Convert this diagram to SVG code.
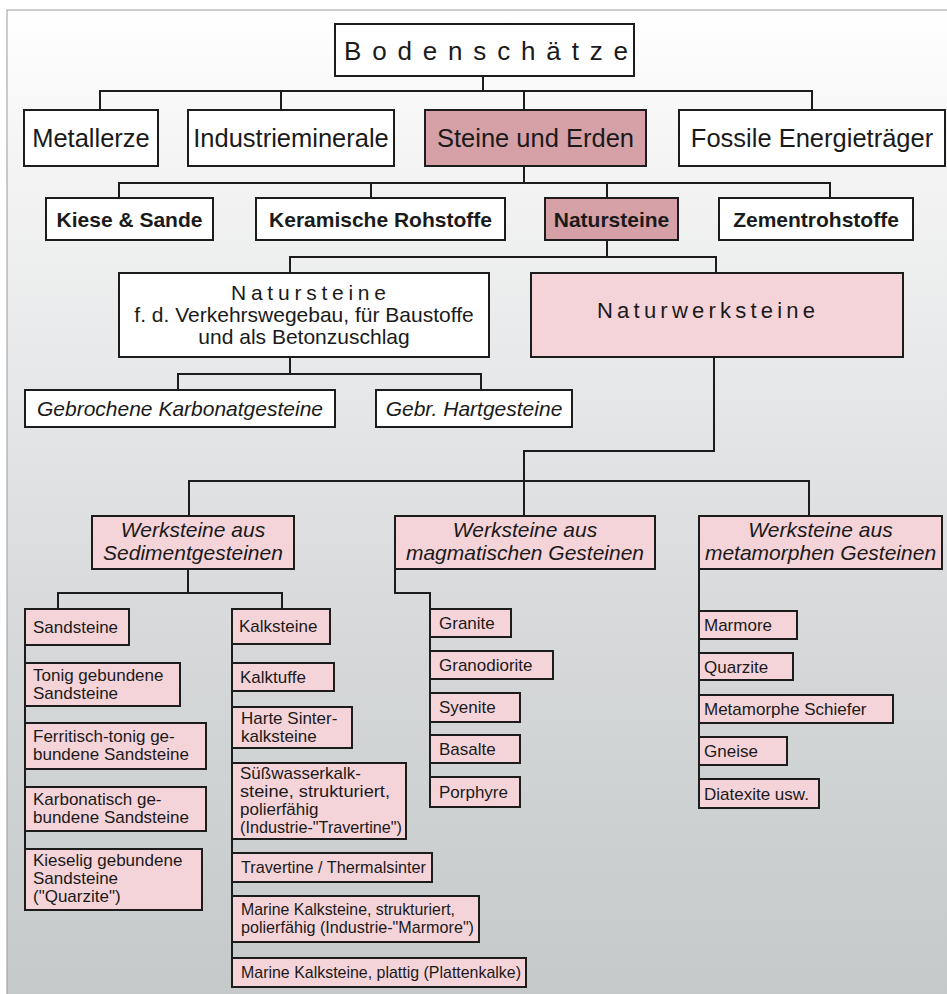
<svg xmlns="http://www.w3.org/2000/svg" width="947" height="994" viewBox="0 0 947 994">
<defs>
<linearGradient id="bg" x1="0" y1="0" x2="0" y2="1">
<stop offset="0" stop-color="#ffffff"/>
<stop offset="0.12" stop-color="#f6f6f6"/>
<stop offset="0.35" stop-color="#e8e9ea"/>
<stop offset="0.6" stop-color="#d8dadb"/>
<stop offset="1" stop-color="#c5c9ca"/>
</linearGradient>
<style>
.b{stroke:#1c1c1c;stroke-width:2;}
.w{fill:#ffffff;}
.dp{fill:#d6a0a7;}
.lp{fill:#f5d4d9;}
text{font-family:"Liberation Sans",Arial,sans-serif;fill:#1a1a1a;}
.t1{font-size:25.5px;text-anchor:middle;}
.t2{font-size:21px;font-weight:bold;text-anchor:middle;}
.t3{font-size:21px;text-anchor:middle;}
.ti{font-size:21px;font-style:italic;text-anchor:middle;}
.s{font-size:17px;}
.c{fill:none;stroke:#1c1c1c;stroke-width:2;}
</style>
</defs>
<rect x="0" y="0" width="947" height="994" fill="#ffffff"/>
<rect x="7" y="10" width="945" height="990" fill="url(#bg)" stroke="#9a9a9a" stroke-width="1"/>

<g id="connectors">
<path class="c" d="M483,76 V91 M100,110 V91 H812 V110 M281,91 V110 M524,91 V110"/>
<path class="c" d="M524,166 V183 M119,198 V183 H830 V198 M371,183 V198 M607,183 V198"/>
<path class="c" d="M607,240 V257 M290,273 V257 H716 V273"/>
<path class="c" d="M290,357 V374 M178,390 V374 H481 V390"/>
<path class="c" d="M714,357 V451 H524 V481 M189,516 V481 H809 V516 M524,481 V516"/>
<path class="c" d="M188,569 V593 M58,609 V593 H282 V609 M25,645 V849 M232,644 V958"/>
<path class="c" d="M395,569 V593 H430 V777"/>
<path class="c" d="M699,569 V779"/>
</g>

<g id="n-bodenschaetze"><rect class="b w" x="335" y="24" width="299" height="52"/><text x="344" y="60" font-size="26" textLength="284" lengthAdjust="spacing">Bodenschätze</text></g>

<g id="n-metallerze"><rect class="b w" x="24" y="110" width="134" height="56"/><text class="t1" x="91" y="147">Metallerze</text></g>
<g id="n-industrieminerale"><rect class="b w" x="188" y="110" width="206" height="56"/><text class="t1" x="291" y="147">Industrieminerale</text></g>
<g id="n-steine-erden"><rect class="b dp" x="425" y="110" width="221" height="56"/><text class="t1" x="535.5" y="147">Steine und Erden</text></g>
<g id="n-fossile"><rect class="b w" x="679" y="110" width="266" height="56"/><text class="t1" x="812" y="147">Fossile Energieträger</text></g>

<g id="n-kiese"><rect class="b w" x="46" y="198" width="167" height="42"/><text class="t2" x="129.5" y="226.5">Kiese &amp; Sande</text></g>
<g id="n-keramische"><rect class="b w" x="256" y="198" width="249" height="42"/><text class="t2" x="380.5" y="226.5">Keramische Rohstoffe</text></g>
<g id="n-natursteine"><rect class="b dp" x="545" y="198" width="133" height="42"/><text class="t2" x="611.5" y="226.5">Natursteine</text></g>
<g id="n-zement"><rect class="b w" x="719" y="198" width="194" height="42"/><text class="t2" x="816" y="226.5">Zementrohstoffe</text></g>

<g id="n-natursteine-verkehr"><rect class="b w" x="119" y="273" width="370" height="84"/>
<text x="231" y="300" font-size="21" textLength="155" lengthAdjust="spacing">Natursteine</text>
<text class="t3" x="304" y="322">f. d. Verkehrswegebau, für Baustoffe</text>
<text class="t3" x="304" y="344">und als Betonzuschlag</text></g>
<g id="n-naturwerksteine"><rect class="b lp" x="531" y="273" width="372" height="84"/><text x="597" y="318" font-size="22" textLength="218" lengthAdjust="spacing">Naturwerksteine</text></g>

<g id="n-karbonat"><rect class="b w" x="25" y="390" width="310" height="37"/><text class="ti" x="180" y="416">Gebrochene Karbonatgesteine</text></g>
<g id="n-hart"><rect class="b w" x="376" y="390" width="196" height="37"/><text class="ti" x="474" y="416">Gebr. Hartgesteine</text></g>

<g id="n-sediment"><rect class="b lp" x="92" y="516" width="202" height="53"/><text class="ti" x="193" y="537">Werksteine aus</text><text class="ti" x="193" y="560">Sedimentgesteinen</text></g>
<g id="n-magmatisch"><rect class="b lp" x="395" y="516" width="260" height="53"/><text class="ti" x="525" y="537">Werksteine aus</text><text class="ti" x="525" y="560">magmatischen Gesteinen</text></g>
<g id="n-metamorph"><rect class="b lp" x="699" y="516" width="243" height="53"/><text class="ti" x="820.5" y="537">Werksteine aus</text><text class="ti" x="820.5" y="560">metamorphen Gesteinen</text></g>

<g id="n-sandsteine"><rect class="b lp" x="25" y="609" width="104" height="36"/><text class="s" x="33" y="633">Sandsteine</text></g>
<g id="n-tonig"><rect class="b lp" x="25" y="663" width="155" height="43"/><text class="s" x="33" y="681">Tonig gebundene</text><text class="s" x="33" y="699">Sandsteine</text></g>
<g id="n-ferritisch"><rect class="b lp" x="25" y="723" width="181" height="46"/><text class="s" x="33" y="742">Ferritisch-tonig ge-</text><text class="s" x="33" y="760">bundene Sandsteine</text></g>
<g id="n-karbonatisch"><rect class="b lp" x="25" y="787" width="181" height="44"/><text class="s" x="33" y="805">Karbonatisch ge-</text><text class="s" x="33" y="823">bundene Sandsteine</text></g>
<g id="n-kieselig"><rect class="b lp" x="25" y="849" width="177" height="61"/><text class="s" x="33" y="866">Kieselig gebundene</text><text class="s" x="33" y="884">Sandsteine</text><text class="s" x="33" y="902">("Quarzite")</text></g>

<g id="n-kalksteine"><rect class="b lp" x="232" y="609" width="98" height="35"/><text class="s" x="239" y="632">Kalksteine</text></g>
<g id="n-kalktuffe"><rect class="b lp" x="232" y="663" width="102" height="28"/><text class="s" x="240" y="683">Kalktuffe</text></g>
<g id="n-sinter"><rect class="b lp" x="232" y="707" width="120" height="41"/><text class="s" x="241" y="724">Harte Sinter-</text><text class="s" x="241" y="742">kalksteine</text></g>
<g id="n-suesswasser"><rect class="b lp" x="232" y="763" width="174" height="76"/><text class="s" x="240" y="779">Süßwasserkalk-</text><text class="s" x="240" y="797" textLength="150" lengthAdjust="spacingAndGlyphs">steine, strukturiert,</text><text class="s" x="240" y="815">polierfähig</text><text class="s" x="240" y="833" textLength="162" lengthAdjust="spacingAndGlyphs">(Industrie-"Travertine")</text></g>
<g id="n-travertine"><rect class="b lp" x="232" y="853" width="200" height="29"/><text class="s" x="241" y="873" textLength="185" lengthAdjust="spacingAndGlyphs">Travertine / Thermalsinter</text></g>
<g id="n-marine1"><rect class="b lp" x="232" y="896" width="247" height="46"/><text class="s" x="241" y="915" textLength="214" lengthAdjust="spacingAndGlyphs">Marine Kalksteine, strukturiert,</text><text class="s" x="241" y="933" textLength="233" lengthAdjust="spacingAndGlyphs">polierfähig (Industrie-"Marmore")</text></g>
<g id="n-marine2"><rect class="b lp" x="232" y="958" width="294" height="29"/><text class="s" x="241" y="978" textLength="280" lengthAdjust="spacingAndGlyphs">Marine Kalksteine, plattig (Plattenkalke)</text></g>

<g id="n-granite"><rect class="b lp" x="430" y="609" width="81" height="28"/><text class="s" x="439" y="629">Granite</text></g>
<g id="n-granodiorite"><rect class="b lp" x="430" y="651" width="123" height="28"/><text class="s" x="439" y="671">Granodiorite</text></g>
<g id="n-syenite"><rect class="b lp" x="430" y="693" width="90" height="29"/><text class="s" x="439" y="713">Syenite</text></g>
<g id="n-basalte"><rect class="b lp" x="430" y="735" width="90" height="28"/><text class="s" x="439" y="755">Basalte</text></g>
<g id="n-porphyre"><rect class="b lp" x="430" y="777" width="90" height="30"/><text class="s" x="439" y="798">Porphyre</text></g>

<g id="n-marmore"><rect class="b lp" x="699" y="611" width="98" height="28"/><text class="s" x="704" y="631">Marmore</text></g>
<g id="n-quarzite"><rect class="b lp" x="699" y="653" width="94" height="27"/><text class="s" x="704" y="673">Quarzite</text></g>
<g id="n-schiefer"><rect class="b lp" x="699" y="695" width="194" height="28"/><text class="s" x="704" y="715">Metamorphe Schiefer</text></g>
<g id="n-gneise"><rect class="b lp" x="699" y="737" width="88" height="28"/><text class="s" x="704" y="757">Gneise</text></g>
<g id="n-diatexite"><rect class="b lp" x="699" y="779" width="120" height="29"/><text class="s" x="704" y="800">Diatexite usw.</text></g>
</svg>
